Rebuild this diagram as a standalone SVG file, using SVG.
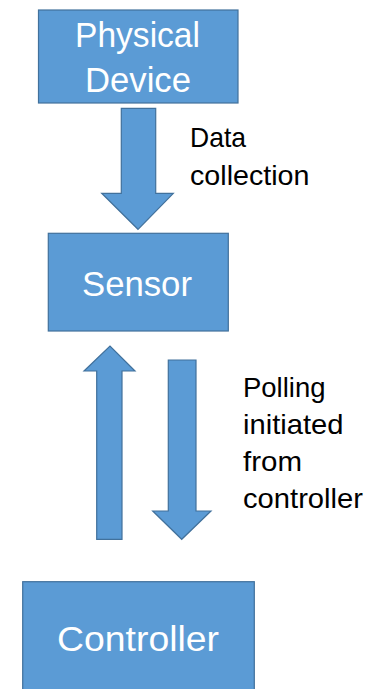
<svg xmlns="http://www.w3.org/2000/svg" width="383" height="689" viewBox="0 0 383 689">
  <style>
    .box { fill: #5B9BD5; stroke: #41719C; stroke-width: 1.2; }
    .arrow { fill: #5B9BD5; stroke: #41719C; stroke-width: 1.2; stroke-linejoin: miter; }
    .lbl { font-family: "Liberation Sans", Arial, sans-serif; font-size: 35px; fill: #FFFFFF; }
    .note { font-family: "Liberation Sans", Arial, sans-serif; font-size: 28px; fill: #000000; }
  </style>
  <rect width="383" height="689" fill="#FFFFFF"/>

  <!-- block arrows -->
  <g id="connectors">
    <!-- Physical Device to Sensor -->
    <polygon class="arrow" points="121.3,108.3 155.7,108.3 155.7,193.3 173.3,193.3 138,229.3 101.7,193.3 121.3,193.3"/>
    <!-- Controller to Sensor (up) -->
    <polygon class="arrow" points="96.7,539.3 122,539.3 122,371 135,371 110,346 84,371 96.7,371"/>
    <!-- Sensor polled from controller (down) -->
    <polygon class="arrow" points="168.3,360 196,360 196,511 211,511 181.7,539.3 152.7,511 168.3,511"/>
  </g>

  <g id="physical-device">
    <rect class="box" x="38.5" y="10" width="199.5" height="93"/>
    <text class="lbl" x="75" y="47" textLength="125" lengthAdjust="spacingAndGlyphs">Physical</text>
    <text class="lbl" x="85" y="92" textLength="106" lengthAdjust="spacingAndGlyphs">Device</text>
  </g>

  <g id="sensor">
    <rect class="box" x="48.3" y="233.3" width="180" height="97.7"/>
    <text class="lbl" x="82" y="296" textLength="110" lengthAdjust="spacingAndGlyphs">Sensor</text>
  </g>

  <g id="controller">
    <rect class="box" x="22.7" y="581.7" width="231.6" height="120"/>
    <text class="lbl" x="57" y="651" textLength="162" lengthAdjust="spacingAndGlyphs">Controller</text>
  </g>

  <g id="label-data-collection">
    <text class="note" x="190" y="146.7" textLength="56" lengthAdjust="spacingAndGlyphs">Data</text>
    <text class="note" x="190" y="185" textLength="119.5" lengthAdjust="spacingAndGlyphs">collection</text>
  </g>

  <g id="label-polling">
    <text class="note" x="243" y="396.5" textLength="82.5" lengthAdjust="spacingAndGlyphs">Polling</text>
    <text class="note" x="243" y="433.5" textLength="100.5" lengthAdjust="spacingAndGlyphs">initiated</text>
    <text class="note" x="243" y="470.5" textLength="59" lengthAdjust="spacingAndGlyphs">from</text>
    <text class="note" x="243" y="508" textLength="120" lengthAdjust="spacingAndGlyphs">controller</text>
  </g>
</svg>
